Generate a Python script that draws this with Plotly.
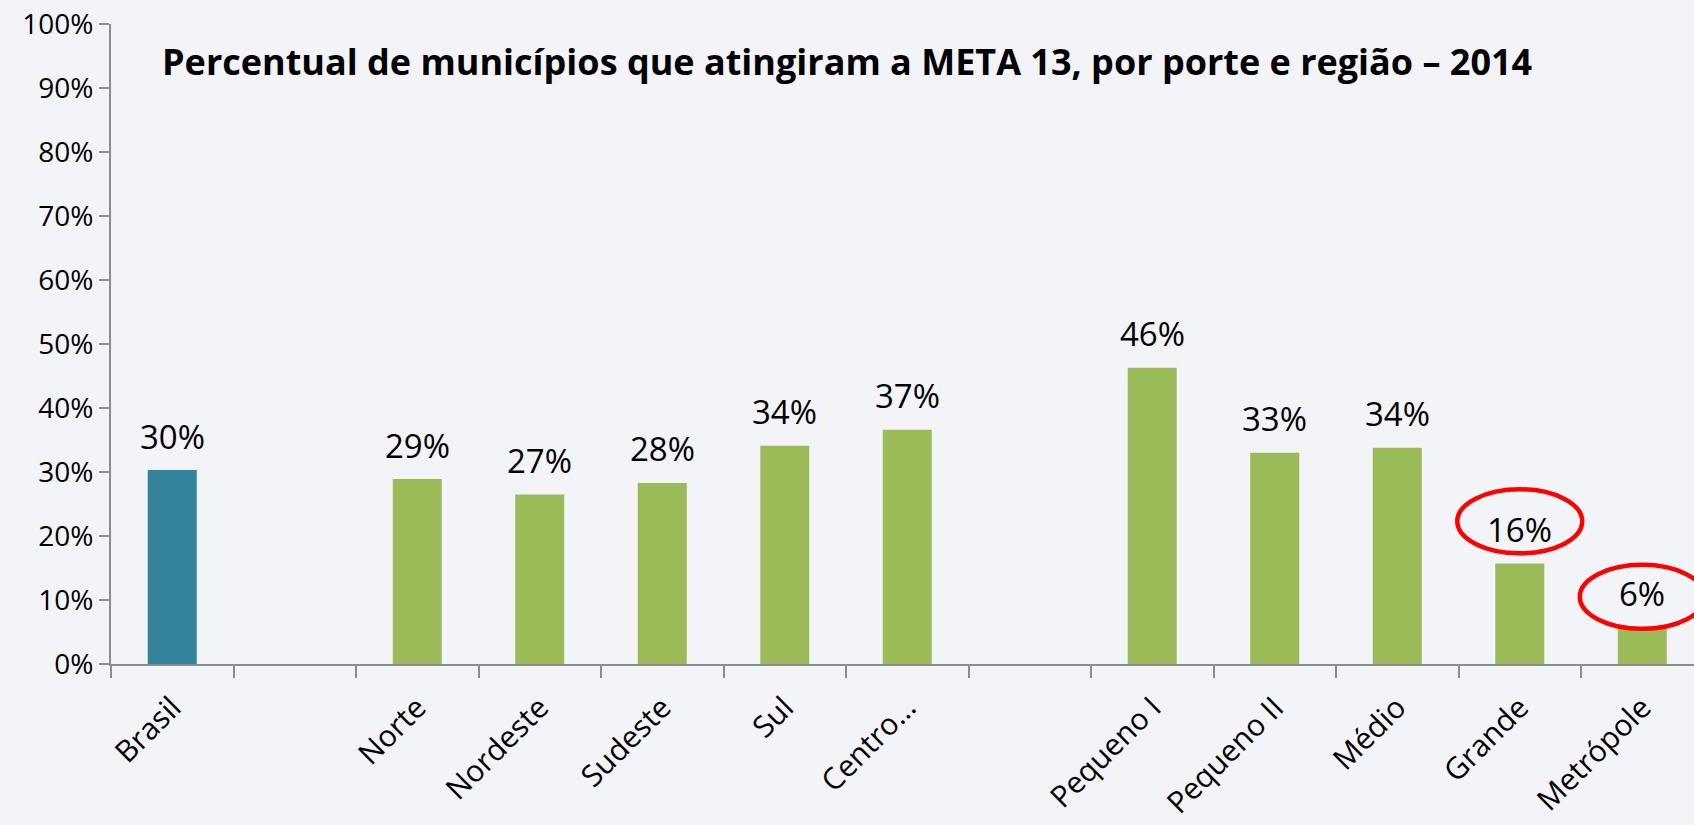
import plotly.graph_objects as go

categories = ["Brasil", " ", "Norte", "Nordeste", "Sudeste", "Sul", "Centro…", "  ",
              "Pequeno I", "Pequeno II", "Médio", "Grande", "Metrópole"]
values = [30.3, None, 28.9, 26.5, 28.3, 34.1, 36.6, None, 46.3, 33.0, 33.8, 15.7, 5.7]
labels = ["30%", "", "29%", "27%", "28%", "34%", "37%", "", "46%", "33%", "34%", "16%", "6%"]
colors = ["#31849B", None, "#9BBB59", "#9BBB59", "#9BBB59", "#9BBB59", "#9BBB59", None,
          "#9BBB59", "#9BBB59", "#9BBB59", "#9BBB59", "#9BBB59"]
highlight = ["Grande", "Metrópole"]
# vertical extent of each hand-drawn highlight ellipse (in %)
highlight_low = [17.3, 5.5]
highlight_high = [27.3, 15.5]
yticks = [0, 10, 20, 30, 40, 50, 60, 70, 80, 90, 100]
title = "Percentual de municípios que atingiram a META 13, por porte e região – 2014"

W, H = 1694, 825
L, R, T, B = 111, 0, 24, 161
plot_w = W - L - R
slot = 122.5
x_end = -0.5 + plot_w / slot

fig = go.Figure()
fig.add_trace(go.Bar(
    x=categories, y=values,
    marker=dict(color=[c if c else "rgba(0,0,0,0)" for c in colors], line=dict(width=0)),
    width=0.4, cliponaxis=False, hoverinfo="skip",
))

annotations = []
for c, v, t in zip(categories, values, labels):
    if v is None:
        continue
    annotations.append(dict(x=c, y=v, xref="x", yref="y", text=t, showarrow=False,
                            yanchor="middle", yshift=34,
                            font=dict(family="Open Sans", size=33, color="#000000")))

annotations.append(dict(x=(160 - L) / plot_w, y=(664 - 62) / 640, xref="paper", yref="paper",
                        text="<b>" + title + "</b>", showarrow=False,
                        xanchor="left", yanchor="middle",
                        font=dict(family="Open Sans", size=36, color="#000000")))

shapes = []
for c, lo, hi in zip(highlight, highlight_low, highlight_high):
    i = categories.index(c)
    shapes.append(dict(type="circle", xref="x", yref="y",
                       x0=i - 0.51, x1=i + 0.51, y0=lo, y1=hi,
                       line=dict(color="#FF0000", width=4.5)))

fig.update_layout(
    width=W, height=H,
    margin=dict(l=L, r=R, t=T, b=B, pad=0, autoexpand=False),
    paper_bgcolor="#F3F4F8", plot_bgcolor="rgba(0,0,0,0)",
    showlegend=False,
    annotations=annotations, shapes=shapes,
    bargap=0.6,
)
fig.update_xaxes(
    type="category", categoryorder="array", categoryarray=categories,
    range=[-0.5, x_end], tickson="boundaries", automargin=False,
    ticks="outside", ticklen=12, tickwidth=2, tickcolor="#8C8C8C",
    showline=True, linecolor="#8C8C8C", linewidth=2,
    showgrid=False, zeroline=False, ticklabelstandoff=12,
    tickangle=-45, tickfont=dict(family="Open Sans", size=30, color="#000000"),
)
fig.update_yaxes(
    range=[0, 100], tickvals=yticks, ticktext=[f"{t}%" for t in yticks],
    automargin=False,
    ticks="outside", ticklen=10, tickwidth=2, tickcolor="#8C8C8C",
    showline=True, linecolor="#8C8C8C", linewidth=2,
    showgrid=False, zeroline=False,
    tickfont=dict(family="Open Sans", size=28, color="#000000"),
)

fig.write_html("out.html", config={"displayModeBar": False},
               post_script="document.body.style.margin='0';document.body.style.overflow='hidden';")
